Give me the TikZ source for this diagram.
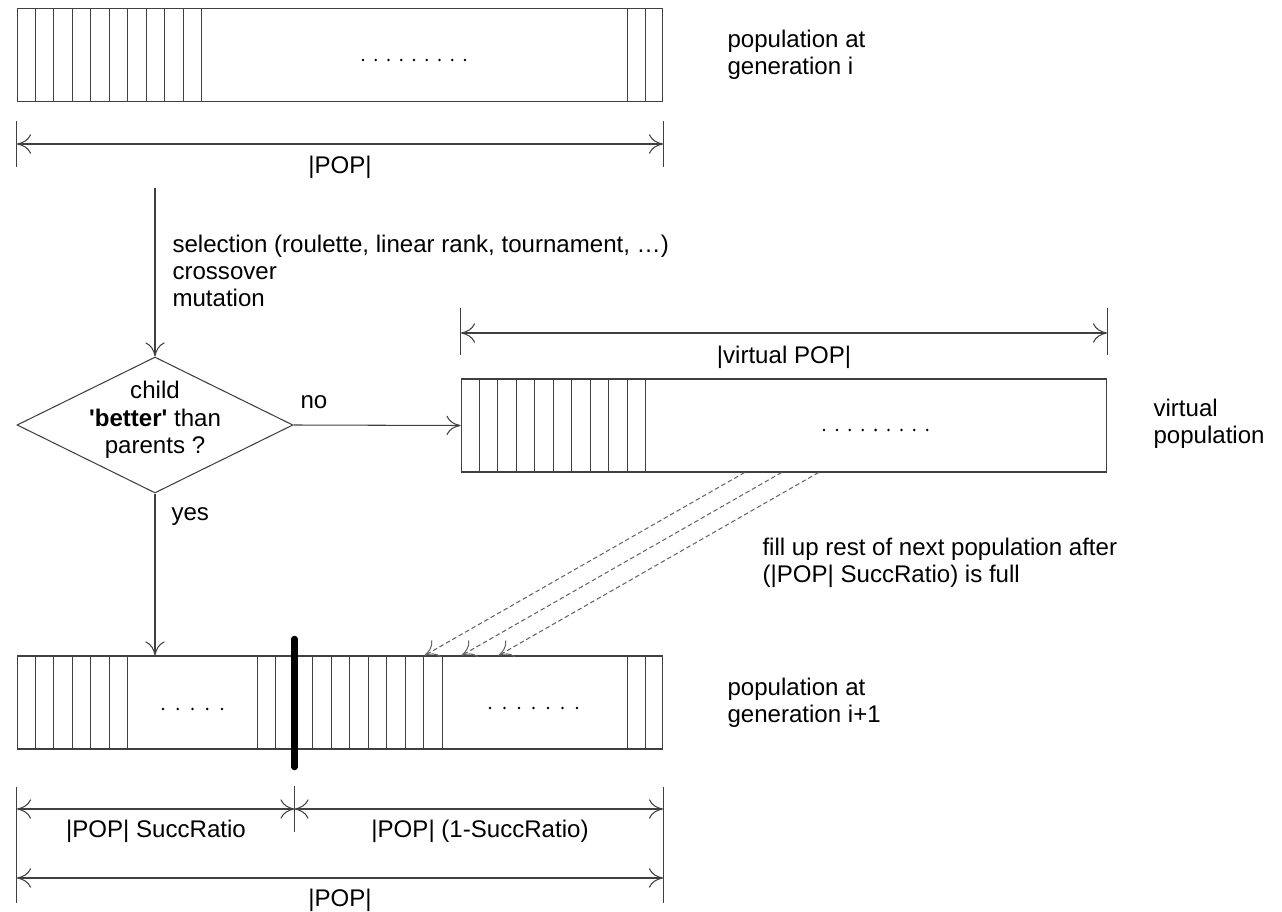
\documentclass[tikz,border=0pt]{standalone}
\usepackage{fontspec}
\setmainfont{Liberation Sans}
\usetikzlibrary{arrows.meta}
\usetikzlibrary{shapes.geometric}

\tikzset{
  every node/.style={font=\fontsize{13.7}{15.5}\selectfont, inner sep=0pt, text=black},
  tip/.style={-{Computer Modern Rightarrow[length=8pt,width=11pt]}},
  dim/.style={{Computer Modern Rightarrow[length=8pt,width=11pt]}-{Computer Modern Rightarrow[length=8pt,width=11pt]}},
  bar/.style={draw, rectangle, minimum width=12.92cm, minimum height=1.86cm},
  fillarrow/.style={tip, black!60, dash pattern=on 2.6pt off 1.6pt},
  cut/.style={black, line width=3.7pt, line cap=round}
}

\begin{document}
\begin{tikzpicture}[x=0.02cm, y=-0.02cm, line width=0.6pt, black!75]
        \useasboundingbox (0,0) rectangle (1282,912);

        % population at generation i
        \node[bar] (gen) at (340,55) {};
        \foreach \i in {1,...,10}
          \draw (gen.north west) ++(\i*18.5,0) -- ++(0,93);
        \foreach \x in {-36,-18}
          \draw (gen.north east) ++(\x,0) -- ++(0,93);
        \foreach \i in {0,...,8}
          \fill[black] (363+\i*12.75,60) circle (0.8pt);
        \node[anchor=west, align=left] (genlab) at (727,55) {population at\\generation i};

        \draw (gen.south west) ++(0,19) -- ++(0,46);
        \draw (gen.south east) ++(0,19) -- ++(0,46);
        \coordinate (gl) at (17,144);
        \coordinate (gr) at (663,144);
        \draw[dim] (gl) -- (gr);
        \node (popa) at (340,167) {|POP|};

        % selection and the test
        \coordinate (sel) at (155,188);
        \node[diamond, draw, minimum width=5.52cm, minimum height=2.72cm] (test) at (155,425) {};
        \node[align=center] (testtxt) at (155,420) {child\\\textbf{\textquotesingle better\textquotesingle} than\\parents ?};
        \draw[tip] (sel) -- (test.north);
        \node[anchor=west, align=left] (seltxt) at (172,271) {selection (roulette, linear rank, tournament, …)\\crossover\\mutation};

        % virtual population
        \node[bar] (virt) at (784,425.5) {};
        \foreach \i in {1,...,10}
          \draw (virt.north west) ++(\i*18.5,0) -- ++(0,93);
        \foreach \i in {0,...,8}
          \fill[black] (824+\i*12.9,430) circle (0.8pt);
        \node[anchor=west, align=left] (virtlab) at (1153,424) {virtual\\population};

        \draw (virt.north west) ++(0,-70) -- ++(0,47);
        \draw (virt.north east) ++(0,-70) -- ++(0,47);
        \coordinate (vl) at (461,333);
        \coordinate (vr) at (1107,333);
        \draw[dim] (vl) -- (vr);
        \node (vpop) at (784,357) {|virtual POP|};

        \draw[tip] (test.east) -- (virt.west);
        \node[anchor=west] (no) at (300,402) {no};

        % population at generation i+1
        \node[bar] (next) at (340,702.5) {};
        \foreach \i in {1,2,3,4,5,6,13,14,15,16,17,18,19,20,21,22,23}
          \draw (next.north west) ++(\i*18.5,0) -- ++(0,93);
        \foreach \x in {-36,-18}
          \draw (next.north east) ++(\x,0) -- ++(0,93);
        \foreach \i in {0,...,4}
          \fill[black] (163+\i*14.75,709) circle (0.8pt);
        \foreach \i in {0,...,6}
          \fill[black] (490+\i*14.5,708) circle (0.8pt);
        \node[anchor=west, align=left] (nextlab) at (727,703) {population at\\generation i+1};

        \draw[tip] (test.south) -- (test.south |- next.north);
        \node[anchor=west] (yes) at (171,517) {yes};

        \foreach \a/\b in {284/408, 321/445, 358/482}
          \draw[fillarrow] ([xshift=\a*0.02cm]virt.south west) -- ([xshift=\b*0.02cm]next.north west);
        \node[anchor=west, align=left] (filltxt) at (762,563) {fill up rest of next population after\\(|POP| SuccRatio) is full};

        \coordinate (cuttop) at (294.5,639);
        \coordinate (cutbot) at (294.5,767);
        \draw[cut] (cuttop) -- (cutbot);

        % widths below
        \draw (next.south west) ++(0,37) -- ++(0,116);
        \draw (next.south east) ++(0,37) -- ++(0,116);
        \draw (294.5,786) -- (294.5,832);
        \coordinate (sl) at (17,809);
        \coordinate (sm) at (294.5,809);
        \coordinate (sr) at (663,809);
        \draw[dim] (sl) -- (sm);
        \draw[dim] (sm) -- (sr);
        \node (succ) at (156,831) {|POP| SuccRatio};
        \node (rest) at (480,831) {|POP| (1-SuccRatio)};

        \coordinate (pl) at (17,878);
        \coordinate (pr) at (663,878);
        \draw[dim] (pl) -- (pr);
        \node (popb) at (340,900) {|POP|};
     \end{tikzpicture}
\end{document}
